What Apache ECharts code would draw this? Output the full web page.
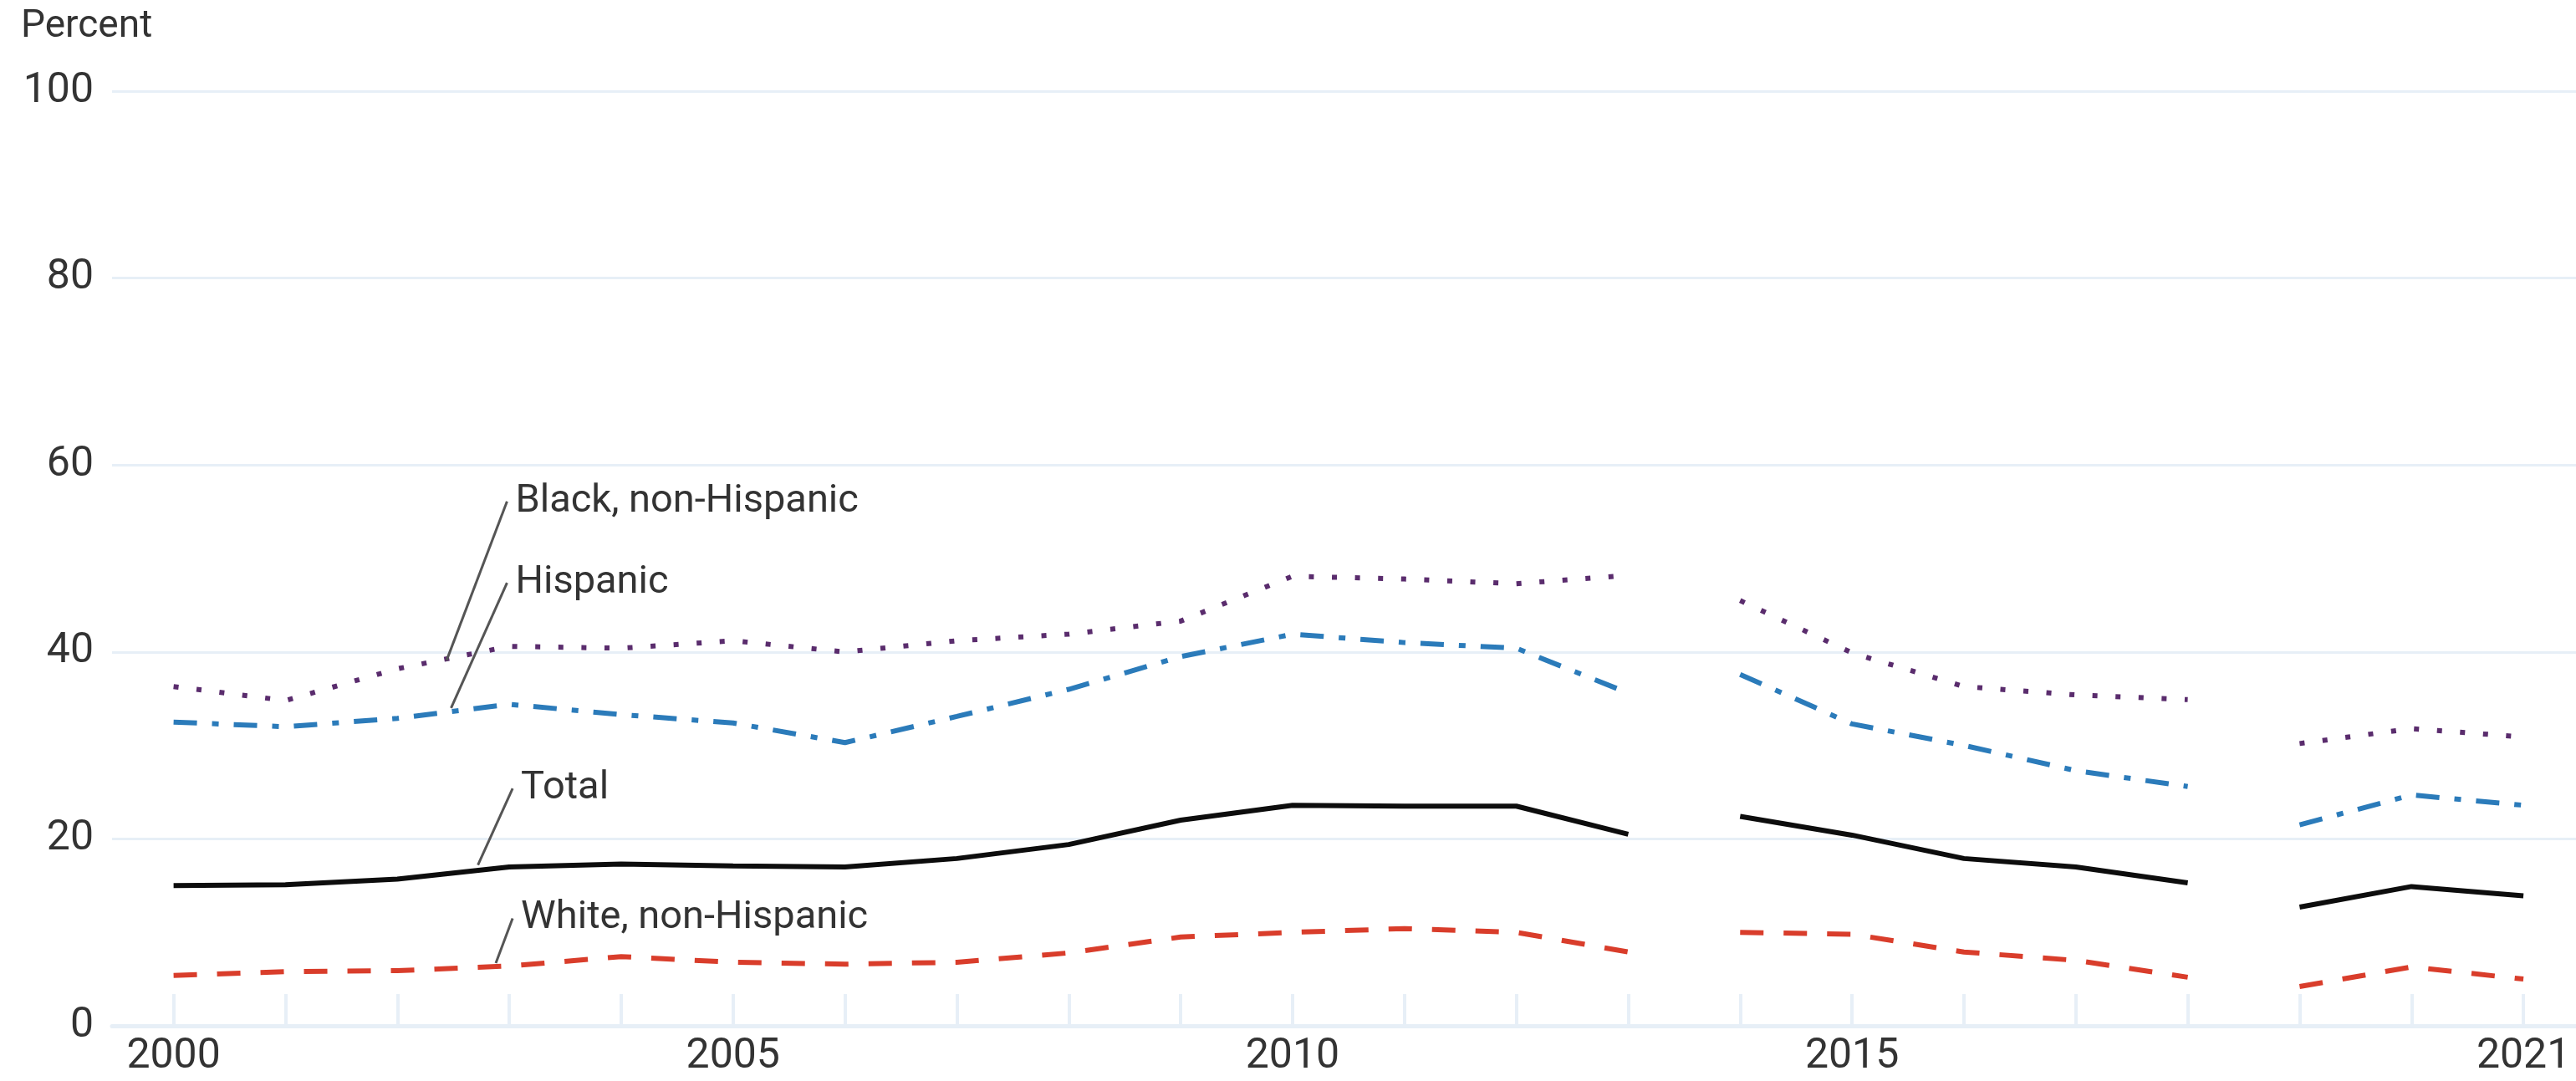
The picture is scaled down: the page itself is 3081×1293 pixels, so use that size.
<!DOCTYPE html>
<html>
<head>
<meta charset="utf-8">
<script src="https://cdn.jsdelivr.net/npm/echarts@6.0.0/dist/echarts.min.js"></script>
<style>
    html, body { margin: 0; padding: 0; background: #fff; }
    #povertyChart { width: 3081px; height: 1293px; }
</style>
</head>
<body>
<div id="povertyChart"></div>
<script>
// 年份 2000-2021
var years = [2000, 2001, 2002, 2003, 2004, 2005, 2006, 2007, 2008, 2009, 2010,
    2011, 2012, 2013, 2014, 2015, 2016, 2017, 2018, 2019, 2020, 2021];

// series values (percent), one per year
var total = [15.0, 15.1, 15.7, 17.0, 17.3, 17.1, 17.0, 17.9, 19.4, 22.0, 23.6,
    23.5, 23.5, 20.5, 22.4, 20.4, 17.9, 17.0, 15.3, 12.7, 14.9, 13.9];
var white = [5.4, 5.8, 5.9, 6.4, 7.4, 6.8, 6.6, 6.8, 7.8, 9.5, 10.0,
    10.4, 10.0, 7.9, 10.0, 9.8, 7.9, 7.0, 5.2, 4.2, 6.3, 5.0];
var black = [36.3, 34.8, 38.2, 40.6, 40.4, 41.2, 40.0, 41.2, 41.9, 43.3, 48.1,
    47.8, 47.3, 48.2, 45.5, 39.9, 36.3, 35.4, 34.9, 30.2, 31.8, 30.9];
var hispanic = [32.5, 32.0, 32.9, 34.4, 33.3, 32.4, 30.3, 33.1, 36.0, 39.5, 41.9,
    41.0, 40.4, 35.6, 37.6, 32.3, 30.0, 27.3, 25.6, 21.5, 24.7, 23.6];

// the lines break between these spans
var segments = [[2000, 2013], [2014, 2018], [2019, 2021]];

// tick labels
var xLabels = [2000, 2005, 2010, 2015, 2021];
var yTicks = [0, 20, 40, 60, 80, 100];

// annotation leaders: [year, value] at the line, [year, value] at the label
var notes = [
    { text: 'Black, non-Hispanic', from: [2002.44, 39.1], to: [2002.98, 56.1] },
    { text: 'Hispanic', from: [2002.48, 34.0], to: [2002.98, 47.4] },
    { text: 'Total', from: [2002.72, 17.2], to: [2003.03, 25.4] },
    { text: 'White, non-Hispanic', from: [2002.88, 6.7], to: [2003.03, 11.5] }
];

var groups = [
    { name: 'Black, non-Hispanic', values: black, color: '#5a2c6d', dash: [6, 21.6] },
    { name: 'Hispanic', values: hispanic, color: '#2b7bba', dash: [28, 18, 8, 18] },
    { name: 'Total', values: total, color: '#0d0d0d', dash: 'solid' },
    { name: 'White, non-Hispanic', values: white, color: '#d93d2b', dash: [28, 24] }
];

var gridColor = '#e7eff7';
var font = 'Roboto';

function segData(values, seg) {
    var out = [];
    years.forEach(function (y, i) {
        if (y >= seg[0] && y <= seg[1]) out.push([y, values[i]]);
    });
    return out;
}

var series = [];
groups.forEach(function (g) {
    segments.forEach(function (seg) {
        series.push({
            name: g.name,
            type: 'line',
            data: segData(g.values, seg),
            showSymbol: false,
            silent: true,
            lineStyle: { color: g.color, width: 6, type: g.dash, cap: 'butt' },
            z: 3
        });
    });
});

// 标注引线 + 文字
notes.forEach(function (n) {
    series.push({
        name: n.text,
        type: 'line',
        data: [n.from, n.to],
        showSymbol: false,
        silent: true,
        lineStyle: { color: '#555', width: 3 },
        endLabel: {
            show: true,
            formatter: n.text,
            distance: 10,
            color: '#333',
            fontFamily: font,
            fontSize: 47
        },
        z: 4
    });
});

var option = {
    animation: false,
    backgroundColor: '#fff',
    title: {
        text: 'Percent',
        left: 20,
        top: 4,
        textStyle: { fontFamily: font, fontSize: 46, fontWeight: 'normal', color: '#333' }
    },
    grid: {
        left: 134,
        right: 0,
        top: 109,
        bottom: 66,
        outerBoundsMode: 'none'
    },
    xAxis: {
        type: 'value',
        min: 1999.45,
        max: 2021.47,
        axisLine: { show: true, lineStyle: { color: gridColor, width: 5 } },
        axisTick: {
            show: true,
            inside: true,
            length: 38,
            customValues: years,
            lineStyle: { color: gridColor, width: 4 }
        },
        axisLabel: {
            customValues: xLabels,
            margin: 12,
            color: '#333',
            fontFamily: font,
            fontSize: 50,
            formatter: function (v) { return String(v); }
        },
        splitLine: { show: false }
    },
    yAxis: {
        type: 'value',
        min: 0,
        max: 100,
        interval: 20,
        axisLine: { show: false },
        axisTick: { show: false },
        axisLabel: {
            margin: 22,
            color: '#333',
            fontFamily: font,
            fontSize: 50,
            customValues: yTicks
        },
        splitLine: { lineStyle: { color: gridColor, width: 3 } }
    },
    series: series
};

var myChart = echarts.init(document.getElementById('povertyChart'));
myChart.setOption(option);
</script>
</body>
</html>
